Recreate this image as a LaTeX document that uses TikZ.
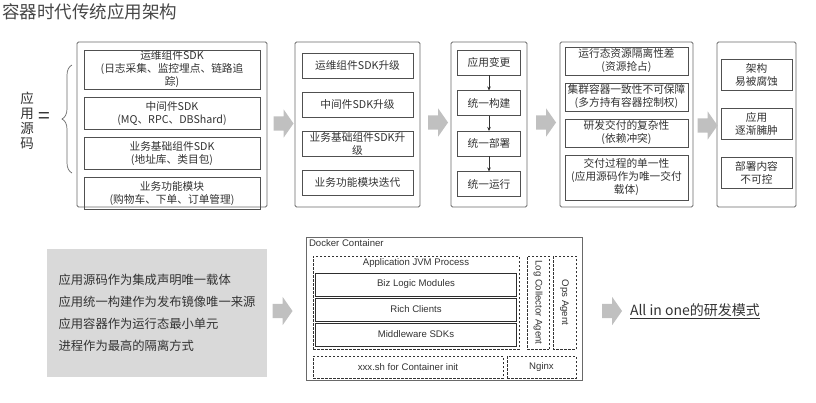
\documentclass[tikz,border=0pt]{standalone}
\usepackage{fontspec}
\setmainfont{Noto Sans CJK SC}
\newfontfamily\dockfont{Liberation Sans}
\usepackage{tikz}
\usetikzlibrary{positioning,arrows.meta,shapes.arrows,calc,decorations.pathreplacing}
\definecolor{inkgray}{RGB}{50,50,50}
\definecolor{panelline}{RGB}{105,105,105}
\definecolor{boxline}{RGB}{80,80,80}
\definecolor{arrowgray}{RGB}{192,192,192}
\definecolor{notebg}{RGB}{217,217,217}
\colorlet{titlegray}{inkgray!90}

\begin{document}
\begin{tikzpicture}[x=1pt,y=-1pt,
    every node/.style={text=inkgray,inner sep=1pt,outer sep=0pt},
    panel/.style={draw=panelline,line width=0.8pt,rounded corners=1.5pt,minimum height=165pt},
    item/.style={draw=boxline,line width=0.8pt,align=center,font=\fontsize{10.7}{13}\selectfont},
    flowarrow/.style={single arrow,fill=arrowgray,draw=none,inner xsep=0pt,inner ysep=7pt,single arrow head extend=7pt,single arrow tip angle=110,minimum height=20pt},
    stepline/.style={draw=inkgray,line width=0.6pt,-{Stealth[length=4pt,width=3.5pt]}},
    dock/.style={font=\dockfont\fontsize{9.6}{11}\selectfont,align=center},
    dashbox/.style={draw=inkgray,line width=0.7pt,dash pattern=on 2.5pt off 1.5pt},
    layer/.style={draw=inkgray!90!black,line width=0.9pt,minimum width=201pt,minimum height=23pt}]
  \useasboundingbox (0,0) rectangle (816,402);
  \node[anchor=north west,text=titlegray,font=\fontsize{17.5}{20}\selectfont] (title) at (1,3) {容器时代传统应用架构};

  \node[align=center,font=\fontsize{13.5}{15}\selectfont] (source) at (27,121) {应\\用\\源\\码};
  \node[font=\fontsize{21}{22}\selectfont] (equal) at (44,118) {=};
  \coordinate (bracelow) at (72,173);
  \coordinate (bracehigh) at (72,65);
  \draw[panelline,line width=0.7pt,decorate,decoration={brace,amplitude=10pt}] (bracelow) -- (bracehigh);

  \node[panel,minimum width=190pt] (p1) at (172,124.5) {};
  \node[item,minimum width=176pt,minimum height=31.5pt,below=8pt of p1.north] (p1a) {运维组件SDK\\(日志采集、监控埋点、链路追\\踪)};
  \node[item,minimum width=176pt,minimum height=31.5pt,below=8.5pt of p1a] (p1b) {中间件SDK\\(MQ、RPC、DBShard)};
  \node[item,minimum width=176pt,minimum height=31.5pt,below=8.5pt of p1b] (p1c) {业务基础组件SDK\\(地址库、类目包)};
  \node[item,minimum width=176pt,minimum height=31.5pt,below=8.5pt of p1c] (p1d) {业务功能模块\\(购物车、下单、订单管理)};

  \node[panel,minimum width=125pt] (p2) at (357.5,124.5) {};
  \node[item,minimum width=111pt,minimum height=25pt,below=11pt of p2.north] (p2a) {运维组件SDK升级};
  \node[item,minimum width=111pt,minimum height=25pt,below=14pt of p2a] (p2b) {中间件SDK升级};
  \node[item,minimum width=111pt,minimum height=25pt,below=14pt of p2b] (p2c) {业务基础组件SDK升\\级};
  \node[item,minimum width=111pt,minimum height=25pt,below=14pt of p2c] (p2d) {业务功能模块迭代};

  \node[panel,minimum width=76pt] (p3) at (489,124.5) {};
  \node[item,minimum width=63pt,minimum height=25pt,below=8pt of p3.north] (p3a) {应用变更};
  \node[item,minimum width=63pt,minimum height=25pt,below=15.5pt of p3a] (p3b) {统一构建};
  \node[item,minimum width=63pt,minimum height=25pt,below=15.5pt of p3b] (p3c) {统一部署};
  \node[item,minimum width=63pt,minimum height=25pt,below=15.5pt of p3c] (p3d) {统一运行};
  \draw[stepline] (p3a) -- (p3b);
  \draw[stepline] (p3b) -- (p3c);
  \draw[stepline] (p3c) -- (p3d);

  \node[panel,minimum width=133pt] (p4) at (626.5,124.5) {};
  \node[item,minimum width=123pt,minimum height=28pt,below=5pt of p4.north] (p4a) {运行态资源隔离性差\\(资源抢占)};
  \node[item,minimum width=123pt,minimum height=28pt,below=8pt of p4a] (p4b) {集群容器一致性不可保障\\(多方持有容器控制权)};
  \node[item,minimum width=123pt,minimum height=28pt,below=8pt of p4b] (p4c) {研发交付的复杂性\\(依赖冲突)};
  \node[item,minimum width=123pt,minimum height=45pt,below=8pt of p4c] (p4d) {交付过程的单一性\\(应用源码作为唯一交付\\载体)};

  \node[panel,minimum width=79pt] (p5) at (756.5,124.5) {};
  \node[item,minimum width=71pt,minimum height=31pt,below=17pt of p5.north] (p5a) {架构\\易被腐蚀};
  \node[item,minimum width=71pt,minimum height=31pt,below=18pt of p5a] (p5b) {应用\\逐渐臃肿};
  \node[item,minimum width=71pt,minimum height=31pt,below=18pt of p5b] (p5c) {部署内容\\不可控};

  \node[flowarrow] (f1) at ($(p1.east)!0.5!(p2.west)+(0,-1)$) {};
  \node[flowarrow] (f2) at ($(p2.east)!0.5!(p3.west)+(0,-2)$) {};
  \node[flowarrow] (f3) at ($(p3.east)!0.5!(p4.west)+(0,-2)$) {};
  \node[flowarrow] (f4) at ($(p4.east)!0.5!(p5.west)+(0,1)$) {};

  \node[fill=notebg,minimum width=220pt,minimum height=128pt,inner xsep=11pt,align=left,font=\fontsize{12.3}{22}\selectfont] (ideas) at (157,313) {应用源码作为集成声明唯一载体\\应用统一构建作为发布镜像唯一来源\\应用容器作为运行态最小单元\\进程作为最高的隔离方式};
  \node[flowarrow] (f5) at (280,311) {};

  \node[dock,draw=panelline,line width=0.7pt,minimum width=276pt,minimum height=143pt] (docker) at (444,308.5) {};
  \node[dock,anchor=north west] (dockertitle) at ([shift={(2,2)}]docker.north west) {Docker Container};
  \node[dock,dashbox,minimum width=206pt,minimum height=93pt] (jvm) at (416,302.5) {};
  \node[dock,below=2pt of jvm.north] (jvmtitle) {Application JVM Process};
  \node[dock,layer,below=17pt of jvm.north] (biz) {Biz Logic Modules};
  \node[dock,layer,below=2pt of biz] (rich) {Rich Clients};
  \node[dock,layer,below=2pt of rich] (mw) {Middleware SDKs};
  \node[dock,dashbox,rotate=-90,minimum width=93pt,minimum height=22pt] (logagent) at (538,302.5) {Log Collector Agent};
  \node[dock,dashbox,rotate=-90,minimum width=93pt,minimum height=23pt] (opsagent) at (564.5,302.5) {Ops Agent};
  \node[dock,dashbox,minimum width=190pt,minimum height=22pt] (initsh) at (408,367) {xxx.sh for Container init};
  \node[dock,dashbox,minimum width=69pt,minimum height=22pt] (nginx) at (541.5,367) {Nginx};

  \node[flowarrow] (f6) at (609.5,311) {};
  \node[anchor=west,font=\fontsize{14}{16}\selectfont] (allinone) at (629,311) {\underline{All in one的研发模式}};
\end{tikzpicture}
\end{document}
